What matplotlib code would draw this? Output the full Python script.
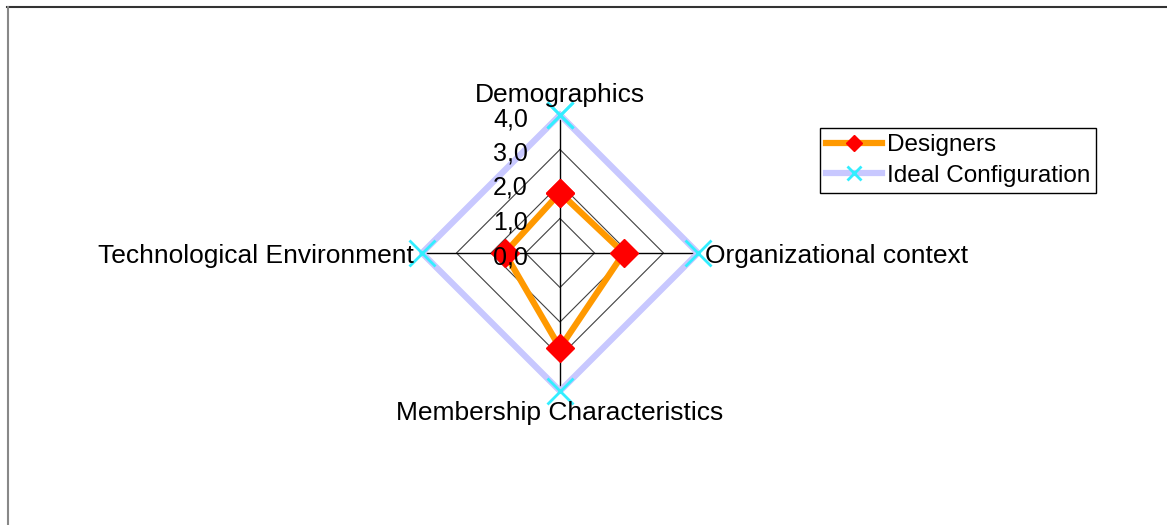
import numpy as np
import matplotlib
matplotlib.use('Agg')
import matplotlib.pyplot as plt
from matplotlib.transforms import offset_copy
from matplotlib.lines import Line2D

plt.rcParams['font.family'] = ['Liberation Sans', 'DejaVu Sans']

categories = ['Demographics', 'Organizational context',
              'Membership Characteristics', 'Technological Environment']
designers = [1.75, 1.85, 2.75, 1.6]
ideal = [4.0, 4.0, 4.0, 4.0]
rticks = [0, 1, 2, 3, 4]
rtick_labels = ['0,0', '1,0', '2,0', '3,0', '4,0']

W, H = 1167, 525
fig = plt.figure(figsize=(W / 100, H / 100), dpi=100)

# polar axes placed so the centre is at about (560, 253) px, radius 138 px
cx, cy, R = 560, 253, 138
ax = fig.add_axes([(cx - R) / W, (H - cy - R) / H, 2 * R / W, 2 * R / H],
                  projection='polar')
ax.set_theta_zero_location('N')
ax.set_theta_direction(-1)
ax.set_ylim(0, 4)
ax.grid(False)
ax.set_xticks([])
ax.set_yticks([])
ax.spines['polar'].set_visible(False)
ax.patch.set_visible(False)

angles = np.linspace(0, 2 * np.pi, len(categories), endpoint=False)
closed = np.append(angles, angles[0])

# polygon grid and spokes
for r in rticks[1:]:
    ax.plot(closed, [r] * len(closed), color='#404040', lw=0.8, clip_on=False, zorder=1)
for a in angles:
    ax.plot([a, a], [0, rticks[-1]], color='black', lw=1, clip_on=False, zorder=1)

ax.plot(closed, ideal + ideal[:1], color='#c8c8ff', lw=4.5, marker='x', ms=19,
        mec='#33eeff', mew=2, clip_on=False, zorder=2, label='Ideal Configuration')
ax.plot(closed, designers + designers[:1], color='#ff9900', lw=4.5, marker='D', ms=14,
        mfc='#ff0000', mec='#ff0000', clip_on=False, zorder=3, label='Designers')

for r, lab in zip(rticks, rtick_labels):
    ax.text(0, r, lab, transform=offset_copy(ax.transData, fig, x=-32, y=-4, units='dots'),
            ha='right', va='center', fontsize=18, zorder=5)

# category labels
offs = [(0, 13, 'center', 'baseline'), (7, -3, 'left', 'center'),
        (0, -22, 'center', 'center'), (-8, -3, 'right', 'center')]
for a, lab, (dx, dy, ha, va) in zip(angles, categories, offs):
    ax.text(a, 4, lab, transform=offset_copy(ax.transData, fig, x=dx, y=dy, units='dots'),
            ha=ha, va=va, fontsize=19, zorder=5)

handles, labels = ax.get_legend_handles_labels()
leg = fig.legend(handles[::-1], labels[::-1], loc='upper left',
                 bbox_to_anchor=(820 / W, 1 - 128 / H), borderaxespad=0,
                 fontsize=17.5, markerscale=0.55, handlelength=2.3, handletextpad=0.2,
                 borderpad=0.25, labelspacing=0.35, fancybox=False, framealpha=1,
                 edgecolor='black')
leg.get_frame().set_linewidth(1)

# partial outer frame (top and left edges)
fig.add_artist(Line2D([7 / W, 1], [1 - 7 / H] * 2, transform=fig.transFigure,
                      color='#333333', lw=1.5))
fig.add_artist(Line2D([8 / W] * 2, [0, 1 - 7 / H], transform=fig.transFigure,
                      color='#888888', lw=1.5))

fig.savefig('out.png', dpi=100)
